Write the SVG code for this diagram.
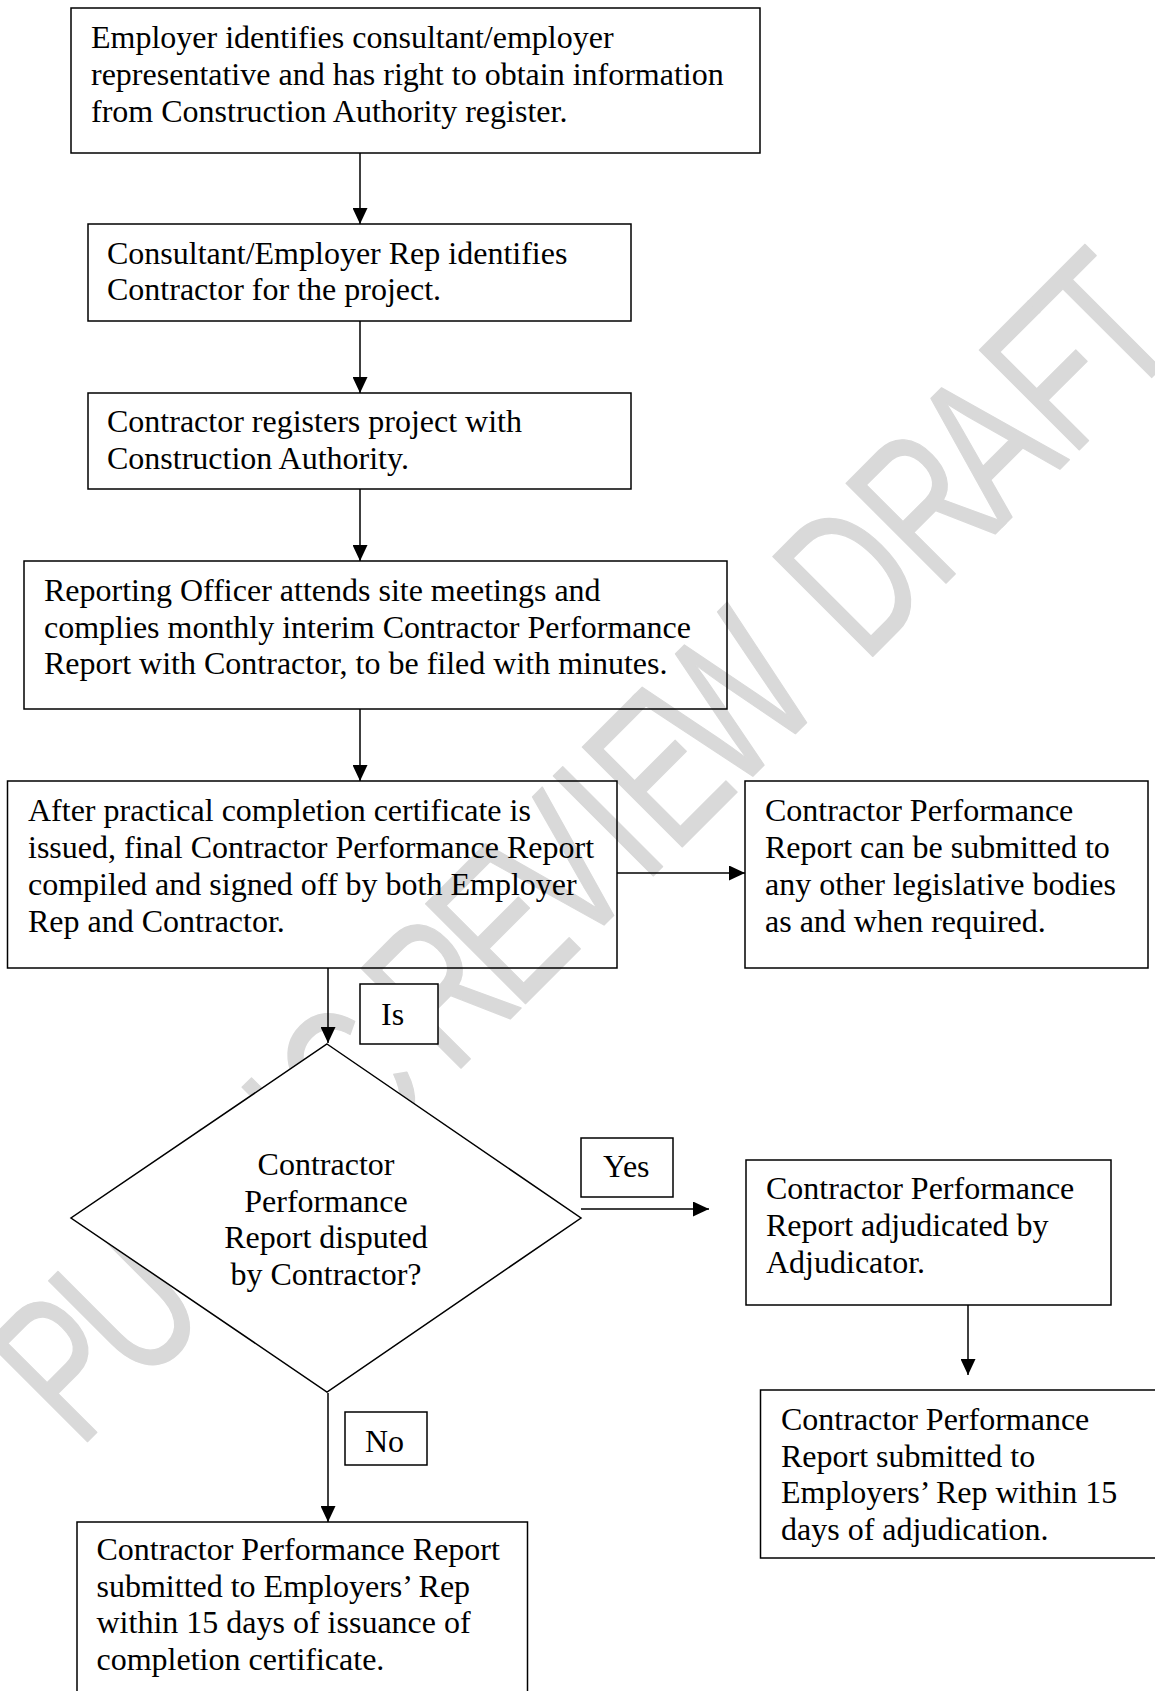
<svg xmlns="http://www.w3.org/2000/svg" width="1155" height="1691" viewBox="0 0 1155 1691">
<style>
  .box{fill:none;stroke:#000;stroke-width:1.5}
  .wbox{fill:#fff;stroke:#000;stroke-width:1.5}
  .t{font-family:"Liberation Serif","Times New Roman",serif;font-size:32px;fill:#000}
  .c{text-anchor:middle}
  .con{stroke:#000;stroke-width:1.5;fill:none;marker-end:url(#arr)}
  .wm{font-family:"Liberation Sans",Arial,sans-serif;font-size:205px;fill:#d9d9d9;stroke:#d9d9d9;stroke-width:1.5;stroke-linejoin:round}
</style>
<defs>
  <marker id="arr" markerUnits="userSpaceOnUse" markerWidth="16" markerHeight="15" viewBox="0 0 16 15" refX="16" refY="7.5" orient="auto">
    <path d="M0,0 L16,7.5 L0,15 z" fill="#000"/>
  </marker>
</defs>
<rect width="1155" height="1691" fill="#fff"/>
<g id="watermark">
  <text class="wm" transform="translate(79,1450) rotate(-45) scale(0.7,1)" x="0 124.1 280.8 411.4 512.2 572.6 700.6 754.8 885.1 1002.2 1141.2 1201.7 1318.8 1532.4 1586.6 1734.2 1864.6 2003.5 2113.7" y="0">PUBLIC REVIEW DRAFT</text>
</g>
<g id="connectors">
  <line class="con" x1="360" y1="153" x2="360" y2="224"/>
  <line class="con" x1="360" y1="321" x2="360" y2="393"/>
  <line class="con" x1="360" y1="489" x2="360" y2="561"/>
  <line class="con" x1="360" y1="709" x2="360" y2="781"/>
  <line class="con" x1="617" y1="873" x2="745" y2="873"/>
  <line class="con" x1="328" y1="968" x2="328" y2="1043"/>
  <line class="con" x1="581" y1="1209" x2="709" y2="1209"/>
  <line class="con" x1="968" y1="1305" x2="968" y2="1375"/>
  <line class="con" x1="328" y1="1393" x2="328" y2="1522"/>
</g>
<g id="n1">
  <rect class="box" x="71" y="8" width="689" height="145"/>
  <text class="t" x="91" y="48">Employer identifies consultant/employer</text>
  <text class="t" x="91" y="85">representative and has right to obtain information</text>
  <text class="t" x="91" y="122">from Construction Authority register.</text>
</g>
<g id="n2">
  <rect class="box" x="88" y="224" width="543" height="97"/>
  <text class="t" x="107" y="264">Consultant/Employer Rep identifies</text>
  <text class="t" x="107" y="300">Contractor for the project.</text>
</g>
<g id="n3">
  <rect class="box" x="88" y="393" width="543" height="96"/>
  <text class="t" x="107" y="432">Contractor registers project with</text>
  <text class="t" x="107" y="469">Construction Authority.</text>
</g>
<g id="n4">
  <rect class="box" x="24" y="561" width="703" height="148"/>
  <text class="t" x="44" y="601">Reporting Officer attends site meetings and</text>
  <text class="t" x="44" y="638">complies monthly interim Contractor Performance</text>
  <text class="t" x="44" y="674">Report with Contractor, to be filed with minutes.</text>
</g>
<g id="n5">
  <rect class="box" x="7.5" y="781" width="609.5" height="187"/>
  <text class="t" x="28" y="821">After practical completion certificate is</text>
  <text class="t" x="28" y="858">issued, final Contractor Performance Report</text>
  <text class="t" x="28" y="895">compiled and signed off by both Employer</text>
  <text class="t" x="28" y="932">Rep and Contractor.</text>
</g>
<g id="n6">
  <rect class="box" x="745" y="781" width="403" height="187"/>
  <text class="t" x="765" y="821">Contractor Performance</text>
  <text class="t" x="765" y="858">Report can be submitted to</text>
  <text class="t" x="765" y="895">any other legislative bodies</text>
  <text class="t" x="765" y="932">as and when required.</text>
</g>
<g id="label-is">
  <rect class="wbox" x="360" y="984" width="78" height="60"/>
  <text class="t" x="381" y="1025">Is</text>
</g>
<g id="n7-decision">
  <polygon class="wbox" points="327,1044 581,1218 327,1392 71,1218"/>
  <text class="t c" x="326" y="1175">Contractor</text>
  <text class="t c" x="326" y="1211.5">Performance</text>
  <text class="t c" x="326" y="1248">Report disputed</text>
  <text class="t c" x="326" y="1284.5">by Contractor?</text>
</g>
<g id="label-yes">
  <rect class="wbox" x="581" y="1138" width="92" height="59"/>
  <text class="t" x="603" y="1177">Yes</text>
</g>
<g id="n8">
  <rect class="box" x="746" y="1160" width="365" height="145"/>
  <text class="t" x="766" y="1199">Contractor Performance</text>
  <text class="t" x="766" y="1236">Report adjudicated by</text>
  <text class="t" x="766" y="1273">Adjudicator.</text>
</g>
<g id="n9">
  <rect class="box" x="760.5" y="1390" width="400" height="168"/>
  <text class="t" x="781" y="1430">Contractor Performance</text>
  <text class="t" x="781" y="1467">Report submitted to</text>
  <text class="t" x="781" y="1503">Employers’ Rep within 15</text>
  <text class="t" x="781" y="1540">days of adjudication.</text>
</g>
<g id="label-no">
  <rect class="wbox" x="345" y="1412" width="82" height="53"/>
  <text class="t" x="365" y="1452">No</text>
</g>
<g id="n10">
  <rect class="box" x="77" y="1522" width="450.5" height="200"/>
  <text class="t" x="96.5" y="1560">Contractor Performance Report</text>
  <text class="t" x="96.5" y="1597">submitted to Employers’ Rep</text>
  <text class="t" x="96.5" y="1633">within 15 days of issuance of</text>
  <text class="t" x="96.5" y="1670">completion certificate.</text>
</g>
</svg>
